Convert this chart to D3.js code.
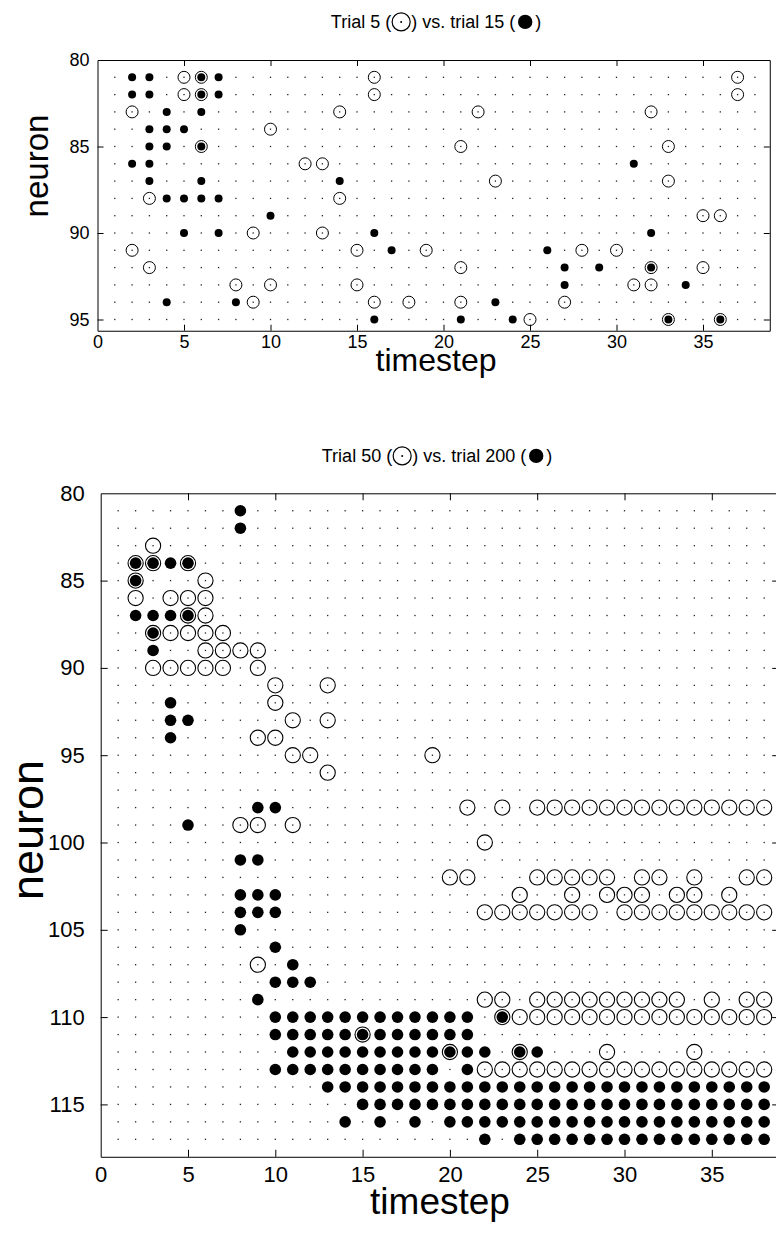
<!DOCTYPE html>
<html>
<head>
<meta charset="utf-8">
<script src="https://cdn.jsdelivr.net/npm/d3@7/dist/d3.min.js"></script>
<style>
  body { margin: 0; background: #fff; }
  svg { display: block; }
  text { font-family: "Liberation Sans", Arial, Helvetica, sans-serif; fill: #000; }
</style>
</head>
<body>
<div id="chart"></div>
<script>
// spike rasters: each row is [neuron, [timesteps where it fired]]
var trial5 = [
  [81, [5, 6, 16, 37]],
  [82, [5, 6, 16, 37]],
  [83, [2, 14, 22, 32]],
  [84, [10]],
  [85, [6, 21, 33]],
  [86, [12, 13]],
  [87, [23, 33]],
  [88, [3, 14]],
  [89, [35, 36]],
  [90, [9, 13]],
  [91, [2, 15, 19, 28, 30]],
  [92, [3, 21, 32, 35]],
  [93, [8, 10, 15, 31, 32]],
  [94, [9, 16, 18, 21, 27]],
  [95, [25, 33, 36]]
];
var trial15 = [
  [81, [2, 3, 6, 7]],
  [82, [2, 3, 6, 7]],
  [83, [4, 6]],
  [84, [3, 4, 5]],
  [85, [3, 4, 6]],
  [86, [2, 3, 31]],
  [87, [3, 6, 14]],
  [88, [4, 5, 6, 7]],
  [89, [10]],
  [90, [5, 7, 16, 32]],
  [91, [17, 26]],
  [92, [27, 29, 32]],
  [93, [27, 34]],
  [94, [4, 8, 23]],
  [95, [16, 21, 24, 33, 36]]
];
var trial50 = [
  [83, [3]],
  [84, [2, 3, 5]],
  [85, [2, 6]],
  [86, [2, 4, 5, 6]],
  [87, [5, 6]],
  [88, [3, 4, 5, 6, 7]],
  [89, [6, 7, 8, 9]],
  [90, [3, 4, 5, 6, 7, 9]],
  [91, [10, 13]],
  [92, [10]],
  [93, [11, 13]],
  [94, [9, 10]],
  [95, [11, 12, 19]],
  [96, [13]],
  [98, [21, 23, 25, 26, 27, 28, 29, 30, 31, 32, 33, 34, 35, 36, 37, 38]],
  [99, [8, 9, 11]],
  [100, [22]],
  [102, [20, 21, 25, 26, 27, 28, 29, 31, 32, 34, 37, 38]],
  [103, [24, 27, 29, 30, 31, 33, 34, 36]],
  [104, [22, 23, 24, 25, 26, 27, 28, 30, 31, 32, 33, 34, 35, 36, 37, 38]],
  [107, [9]],
  [109, [22, 23, 25, 26, 27, 28, 29, 30, 31, 32, 33, 35, 37, 38]],
  [110, [23, 24, 25, 26, 27, 28, 29, 30, 31, 32, 33, 34, 35, 36, 37, 38]],
  [111, [15]],
  [112, [20, 24, 29, 34]],
  [113, [22, 23, 24, 25, 26, 27, 28, 29, 30, 31, 32, 33, 34, 35, 36, 37, 38]]
];
var trial200 = [
  [81, [8]],
  [82, [8]],
  [84, [2, 3, 4, 5]],
  [85, [2]],
  [87, [2, 3, 4, 5]],
  [88, [3]],
  [89, [3]],
  [92, [4]],
  [93, [4, 5]],
  [94, [4]],
  [98, [9, 10]],
  [99, [5]],
  [101, [8, 9]],
  [103, [8, 9, 10]],
  [104, [8, 9, 10]],
  [105, [8]],
  [106, [10]],
  [107, [11]],
  [108, [10, 11, 12]],
  [109, [9]],
  [110, [10, 11, 12, 13, 14, 15, 16, 17, 18, 19, 20, 21, 23]],
  [111, [10, 11, 12, 13, 14, 15, 16, 17, 18, 19, 20, 21]],
  [112, [11, 12, 13, 14, 15, 16, 17, 18, 19, 20, 21, 22, 24, 25]],
  [113, [10, 11, 12, 13, 14, 15, 16, 17, 18, 19, 21]],
  [114, [13, 14, 15, 16, 17, 18, 19, 20, 21, 22, 23, 24, 25, 26, 27, 28, 29, 30, 31, 32, 33, 34, 35, 36, 37, 38]],
  [115, [15, 16, 17, 18, 19, 20, 21, 22, 23, 24, 25, 26, 27, 28, 29, 30, 31, 32, 33, 34, 35, 36, 37, 38]],
  [116, [14, 16, 18, 20, 21, 22, 23, 24, 25, 26, 27, 28, 29, 30, 31, 32, 33, 34, 35, 36, 37, 38]],
  [117, [22, 24, 25, 26, 27, 28, 29, 30, 31, 32, 33, 34, 35, 36, 37, 38]]
];

// background dot grid
var timesteps = [1, 2, 3, 4, 5, 6, 7, 8, 9, 10, 11, 12, 13, 14, 15, 16, 17, 18, 19,
  20, 21, 22, 23, 24, 25, 26, 27, 28, 29, 30, 31, 32, 33, 34, 35, 36, 37, 38];
var neuronsTop = [81, 82, 83, 84, 85, 86, 87, 88, 89, 90, 91, 92, 93, 94, 95];
var neuronsBottom = [81, 82, 83, 84, 85, 86, 87, 88, 89, 90, 91, 92, 93, 94, 95, 96, 97, 98, 99,
  100, 101, 102, 103, 104, 105, 106, 107, 108, 109, 110, 111, 112, 113, 114, 115, 116, 117];

var xTicks = [0, 5, 10, 15, 20, 25, 30, 35];
var yTicksTop = [80, 85, 90, 95];
var yTicksBottom = [80, 85, 90, 95, 100, 105, 110, 115];

var svg = d3.select("#chart").append("svg")
  .attr("width", 776)
  .attr("height", 1234);

function flatten(rows) {
  var out = [];
  rows.forEach(function(r) {
    r[1].forEach(function(t) { out.push({ n: r[0], t: t }); });
  });
  return out;
}

function panel(cfg) {
  var x = d3.scaleLinear().domain([0, cfg.xMax])
    .range([cfg.left, cfg.left + cfg.xMax * cfg.k]);
  var y = d3.scaleLinear().domain([80, cfg.yMax])
    .range([cfg.top, cfg.top + (cfg.yMax - 80) * cfg.k]);
  var g = svg.append("g");

  // clip a la matlab: nothing outside the box
  var clipId = "clip" + cfg.id;
  g.append("clipPath").attr("id", clipId)
    .append("rect")
    .attr("x", x(0)).attr("y", y(80))
    .attr("width", x(cfg.xMax) - x(0)).attr("height", y(cfg.yMax) - y(80));
  var plot = g.append("g").attr("clip-path", "url(#" + clipId + ")");

  //grid dots
  var grid = [];
  cfg.neurons.forEach(function(n) {
    timesteps.forEach(function(t) { grid.push({ n: n, t: t }); });
  });
  plot.selectAll(".gdot").data(grid).enter().append("rect")
    .attr("class", "gdot")
    .attr("x", function(d) { return x(d.t) - 0.65; })
    .attr("y", function(d) { return y(d.n) - 0.65; })
    .attr("width", 1.3).attr("height", 1.3)
    .attr("fill", "#222");

  // open circles = first trial
  plot.selectAll(".open").data(flatten(cfg.open)).enter().append("circle")
    .attr("class", "open")
    .attr("cx", function(d) { return x(d.t); })
    .attr("cy", function(d) { return y(d.n); })
    .attr("r", cfg.rOpen)
    .attr("fill", "none")
    .attr("stroke", "#000")
    .attr("stroke-width", cfg.sw);

  // filled = second trial
  plot.selectAll(".full").data(flatten(cfg.full)).enter().append("circle")
    .attr("class", "full")
    .attr("cx", function(d) { return x(d.t); })
    .attr("cy", function(d) { return y(d.n); })
    .attr("r", cfg.rFull)
    .attr("fill", "#000");

  //assi
  var ax = function(sel) {
    sel.selectAll("path").attr("stroke", "#000").attr("stroke-width", 1);
    sel.selectAll("line").attr("stroke", "#000");
    sel.selectAll("text").style("font-size", cfg.tickFont + "px")
      .style("font-family", "'Liberation Sans', Arial, sans-serif").attr("fill", "#000");
  };
  g.append("g").attr("transform", "translate(0," + y(cfg.yMax) + ")")
    .call(d3.axisBottom(x).tickValues(xTicks).tickSizeInner(-cfg.tick).tickSizeOuter(0).tickPadding(cfg.xPad))
    .call(ax);
  g.append("g").attr("transform", "translate(0," + y(80) + ")")
    .call(d3.axisTop(x).tickValues(xTicks.slice(1)).tickSizeInner(-cfg.tick).tickSizeOuter(0).tickFormat(""))
    .call(ax);
  g.append("g").attr("transform", "translate(" + x(0) + ",0)")
    .call(d3.axisLeft(y).tickValues(cfg.yTicks).tickSizeInner(-cfg.tick).tickSizeOuter(0).tickPadding(cfg.yPad))
    .call(ax);
  g.append("g").attr("transform", "translate(" + x(cfg.xMax) + ",0)")
    .call(d3.axisRight(y).tickValues(cfg.yTicks).tickSizeInner(-cfg.tick).tickSizeOuter(0).tickFormat(""))
    .call(ax);
  // the 0 tick on the bottom axis sits on the corner, drop its line
  g.selectAll(".tick line").filter(function(d) { return d === 0 || d === 80; }).remove();

  // labels
  g.append("text")
    .attr("x", cfg.xLabel[0]).attr("y", cfg.xLabel[1])
    .attr("text-anchor", "middle")
    .style("font-size", cfg.labelFont + "px")
    .text("timestep");
  g.append("text")
    .attr("transform", "translate(" + cfg.yLabel[0] + "," + cfg.yLabel[1] + ") rotate(-90)")
    .attr("text-anchor", "middle")
    .style("font-size", cfg.yLabelFont + "px")
    .text("neuron");

  // title with the two marker glyphs drawn as shapes
  var parts = cfg.title;
  var tg = g.append("g");
  var fs = cfg.titleFont;
  var gap = fs * 0.5, mr = fs * 0.5;
  var cursor = 0;
  var pieces = [];
  parts.forEach(function(p, i) {
    var t = tg.append("text").attr("y", cfg.titleY).style("font-size", fs + "px").text(p);
    var w = t.node().getComputedTextLength();
    pieces.push({ node: t, x: cursor });
    cursor += w;
    if (i < parts.length - 1) {
      pieces.push({ marker: i, x: cursor + gap });
      cursor += gap * 2 + 2;
    }
  });
  var start = cfg.titleX - cursor / 2;
  pieces.forEach(function(p) {
    if (p.node) {
      p.node.attr("x", start + p.x);
    } else {
      var cx = start + p.x + 1, cy = cfg.titleY - fs * 0.34;
      if (p.marker === 0) {
        tg.append("circle").attr("cx", cx).attr("cy", cy).attr("r", mr)
          .attr("fill", "none").attr("stroke", "#000").attr("stroke-width", 1.2);
        tg.append("circle").attr("cx", cx).attr("cy", cy).attr("r", 1).attr("fill", "#000");
      } else {
        tg.append("circle").attr("cx", cx).attr("cy", cy).attr("r", mr * 0.8).attr("fill", "#000");
      }
    }
  });
}

panel({
  id: 1, left: 97.5, top: 60, k: 17.3, xMax: 38.86, yMax: 95.65,
  neurons: neuronsTop, open: trial5, full: trial15, yTicks: yTicksTop,
  rOpen: 6, rFull: 4, sw: 1, tick: 6, tickFont: 18, xPad: 4, yPad: 8,
  xLabel: [436, 371], labelFont: 32, yLabel: [48, 166], yLabelFont: 33,
  title: ["Trial 5 (", ") vs. trial 15 (", ")"], titleX: 436, titleY: 28, titleFont: 18
});

panel({
  id: 2, left: 100.7, top: 493.3, k: 17.46, xMax: 38.86, yMax: 118,
  neurons: neuronsBottom, open: trial50, full: trial200, yTicks: yTicksBottom,
  rOpen: 7.6, rFull: 5.8, sw: 1.1, tick: 7, tickFont: 22, xPad: 10, yPad: 16,
  xLabel: [440, 1214], labelFont: 37, yLabel: [43, 830], yLabelFont: 45,
  title: ["Trial 50 (", ") vs. trial 200 (", ")"], titleX: 437, titleY: 462, titleFont: 18
});
</script>
</body>
</html>
